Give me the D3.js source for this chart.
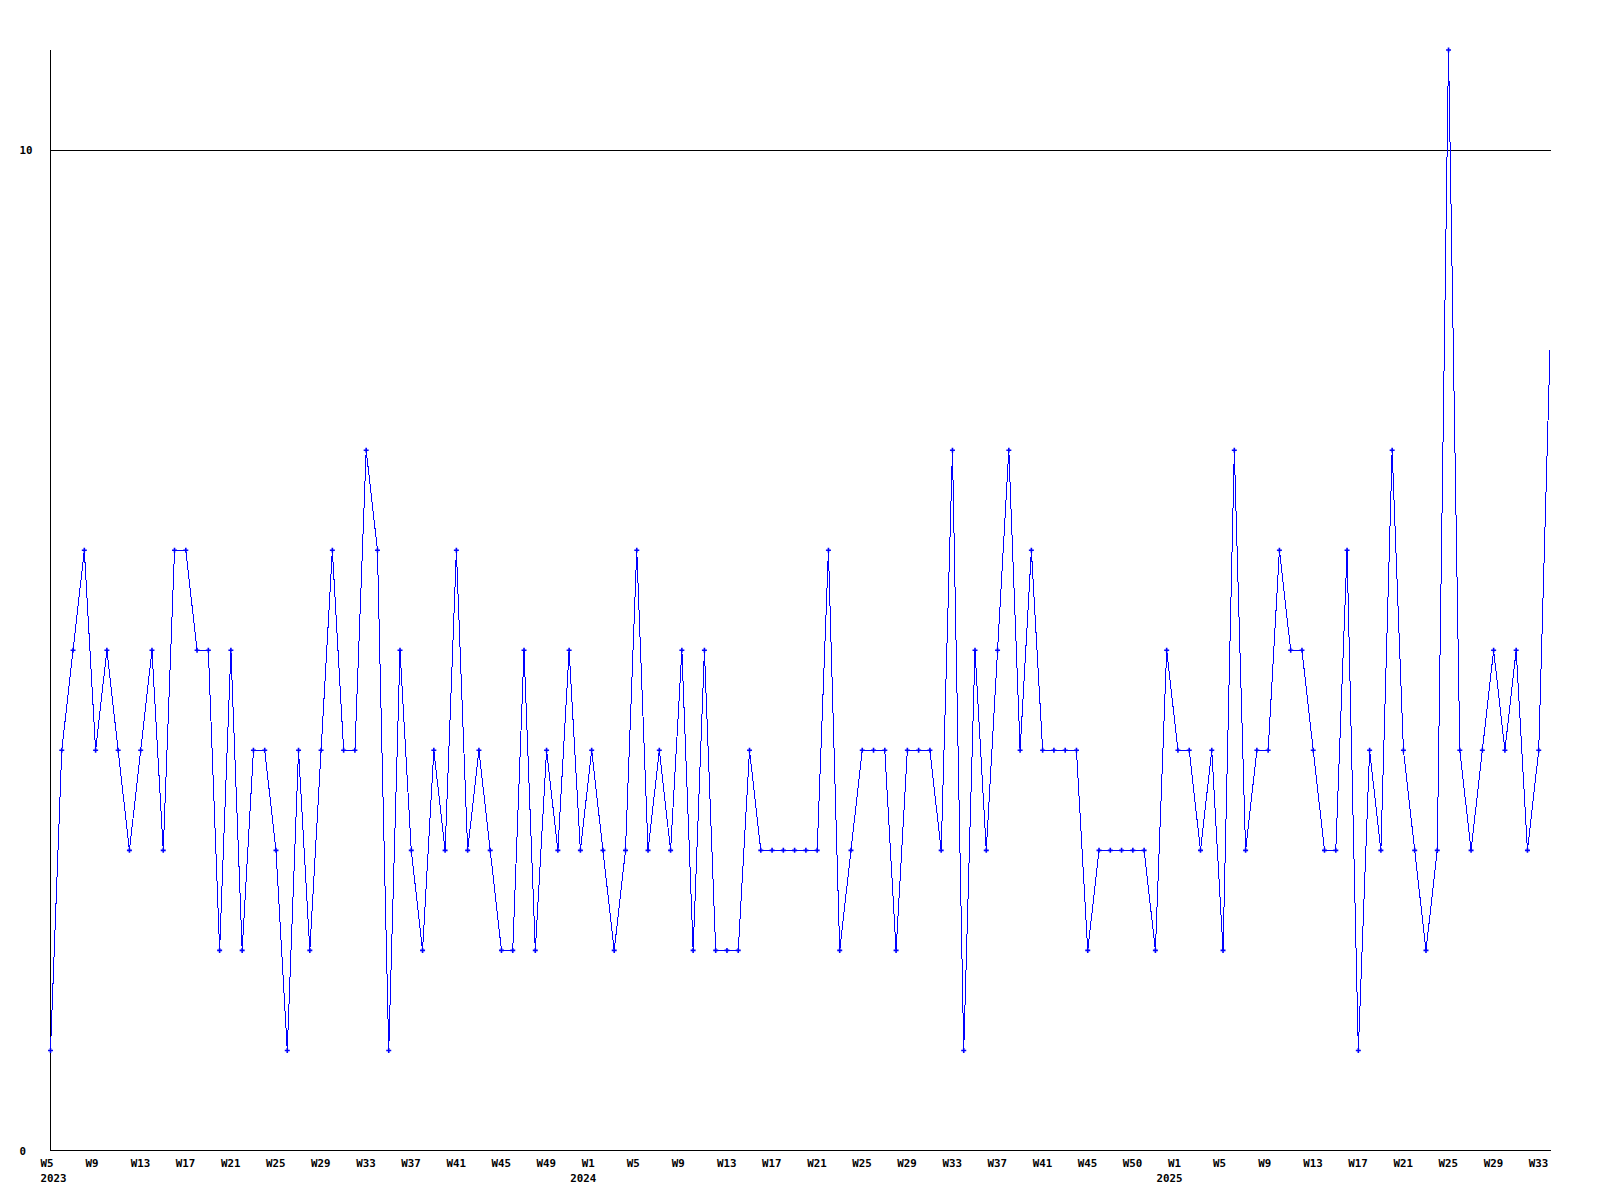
<!DOCTYPE html>
<html>
<head>
<meta charset="utf-8">
<script src="https://cdn.jsdelivr.net/npm/d3@7"></script>
<style>
  html, body { margin: 0; padding: 0; background: #ffffff; }
  svg { display: block; }
  .lbl text { font-family: "DejaVu Sans Mono", "Liberation Mono", monospace; font-weight: bold; font-size: 10.8px; fill: #000; }
</style>
</head>
<body>
<svg id="chart" width="1600" height="1200"></svg>
<script>
// ---- categories (ISO weeks) ----
const years = [2023, 2024, 2025];
const firstWeek = [5, 1, 1];
const lastWeek = [52, 52, 34];

// ---- series values, one per week ----
const values2023 = [1,4,5,6,4,5,4,3,4,5,3,6,6,5,5,2,5,2,4,4,3,1,4,2,4,6,4,4,7,6,1,5,3,2,4,3,6,3,4,3,2,2,5,2,4,3,5,3];
const values2024 = [4,3,2,3,6,3,4,3,5,2,5,2,2,2,4,3,3,3,3,3,3,6,2,3,4,4,4,2,4,4,4,3,7,1,5,3,5,7,4,6,4,4,4,4,2,3,3,3,3,3,2,5];
const values2025 = [4,4,3,4,2,7,3,4,4,6,5,5,4,3,3,6,1,4,3,7,4,3,2,3,11,4,3,4,5,4,5,3,4,8];

// ---- tick labels ----
const yTicks = [0, 10];
const weekTickLabels = ["W5","W9","W13","W17","W21","W25","W29","W33","W37","W41","W45","W49",
                        "W1","W5","W9","W13","W17","W21","W25","W29","W33","W37","W41","W45","W50",
                        "W1","W5","W9","W13","W17","W21","W25","W29","W33"];
// position (point index) of each week label on the axis
const weekTickIdx = [0,4,8,12,16,20,24,28,32,36,40,44,
                     48,52,56,60,64,68,72,76,80,84,88,92,96,
                     100,104,108,112,116,120,124,128,132];
const yearLabels = ["2023", "2024", "2025"];
const yearTickIdx = [0, 48, 100];

// ---- build data table ----
const seriesByYear = [values2023, values2024, values2025];
const data = [];
years.forEach((yr, i) => {
  d3.range(firstWeek[i], lastWeek[i] + 1).forEach((w, j) => {
    data.push({ year: yr, week: w, value: seriesByYear[i][j] });
  });
});
data.forEach((d, i) => d.idx = i);

const svg = d3.select("#chart");
const plotL = 50.5, plotR = 1550, plotT = 50, plotB = 1150.5;

const x = d3.scaleLinear().domain([0, data.length - 1]).range([plotL, plotR]);
const y = d3.scaleLinear().domain([0, 11]).range([plotB, plotT]);

// gridline at 10
svg.append("g").selectAll("line").data(yTicks.filter(t => t > 0)).join("line")
  .attr("x1", plotL).attr("x2", plotR + 1)
  .attr("y1", d => Math.round(y(d)) + 0.5).attr("y2", d => Math.round(y(d)) + 0.5)
  .attr("stroke", "#000").attr("stroke-width", 1).attr("shape-rendering", "crispEdges");

// axis lines
svg.append("line").attr("x1", plotL).attr("x2", plotL).attr("y1", plotT).attr("y2", plotB)
  .attr("stroke", "#000").attr("shape-rendering", "crispEdges");
svg.append("line").attr("x1", plotL).attr("x2", plotR + 1).attr("y1", plotB).attr("y2", plotB)
  .attr("stroke", "#000").attr("shape-rendering", "crispEdges");

// y labels
const yAxis = svg.append("g").attr("class", "lbl").attr("transform", `translate(${plotL},0)`)
  .call(d3.axisLeft(y).tickValues(yTicks).tickSize(0).tickFormat(d3.format("d")));
yAxis.select(".domain").remove();
yAxis.selectAll("text").attr("text-anchor", "start").attr("x", -31).attr("dy", "0.36em");

// x week labels (left-aligned just before the tick)
const xAxis = svg.append("g").attr("class", "lbl").attr("transform", `translate(0,1150)`)
  .call(d3.axisBottom(x).tickValues(weekTickIdx).tickSize(0)
    .tickFormat((d, i) => weekTickLabels[i]));
xAxis.select(".domain").remove();
xAxis.selectAll("text").attr("dy", null).attr("y", 17)
  .attr("text-anchor", "start").attr("x", -10.5);

// year labels
const yrAxis = svg.append("g").attr("class", "lbl").attr("transform", `translate(0,1150)`)
  .call(d3.axisBottom(x).tickValues(yearTickIdx).tickSize(0)
    .tickFormat((d, i) => yearLabels[i]));
yrAxis.select(".domain").remove();
yrAxis.selectAll("text").attr("dy", null).attr("y", 32)
  .attr("text-anchor", "start")
  .attr("x", d => Math.max(x(d) - 22, plotL - 10.5) - x(d));

// line
const line = d3.line().x(d => x(d.idx)).y(d => y(d.value));
svg.append("path").datum(data)
  .attr("d", line).attr("fill", "none").attr("stroke", "#0000ff").attr("stroke-width", 1)
  .attr("shape-rendering", "crispEdges");

// markers (no marker on the last, partial week)
const marker = "M-2.5,-0.8h5v1.6h-5zM-0.8,-2.5h1.6v5h-1.6z";
svg.append("g").selectAll("path").data(data.slice(0, -1)).join("path")
  .attr("d", marker)
  .attr("transform", d => `translate(${x(d.idx)},${y(d.value)})`)
  .attr("fill", "#0000ff");
</script>
</body>
</html>
